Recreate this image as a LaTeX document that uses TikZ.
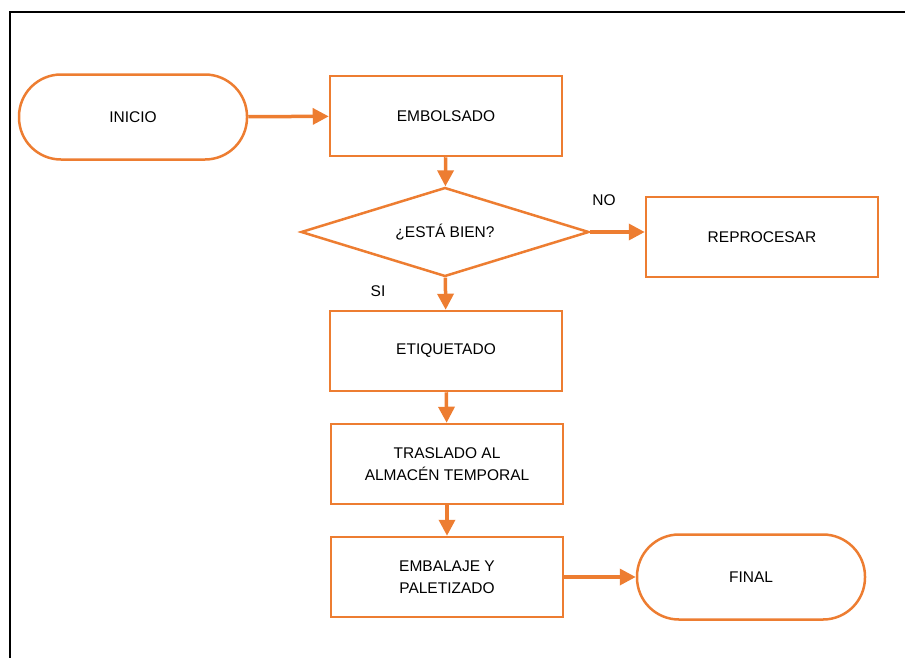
\documentclass[tikz,border=0pt]{standalone}
\usepackage{fontspec}
\setmainfont{Liberation Sans}
\usetikzlibrary{shapes.geometric,arrows.meta}

\definecolor{naranja}{RGB}{237,125,49}

\tikzset{
  caja/.style     = {shape=rectangle, draw=naranja, line width=2.5pt,
                     align=center, minimum width=232pt, minimum height=80pt,
                     inner sep=0pt},
  terminal/.style = {caja, rounded corners=42pt,
                     minimum width=228pt, minimum height=85pt},
  pregunta/.style = {shape=diamond, draw=naranja, line width=2.5pt, aspect=3.24,
                     minimum width=288pt, minimum height=89pt, inner sep=0pt},
  rotulo/.style   = {inner sep=0pt},
  flecha/.style   = {draw=naranja, line width=3.5pt,
                     -{Triangle[length=16pt,width=16pt]}}
}

\begin{document}
\begin{tikzpicture}
[
x=1pt, y=-1pt,
    every node/.style = {font=\fontsize{15.5}{21.5}\selectfont}
  ]
\useasboundingbox (0,0) rectangle (905,657);
% marco
\draw[line width=2.5pt] (10,670) |- (920,12);

\node[terminal] (inicio)     at (133,117) {INICIO};
\node[caja]     (embolsado)  at (446,116) {EMBOLSADO};
\node[pregunta] (control)    at (445,232) {¿ESTÁ BIEN?};
\node[caja]     (reprocesar) at (762,237) {REPROCESAR};
\node[caja]     (etiquetado) at (446,351) {ETIQUETADO};
\node[caja]     (traslado)   at (447,464) {TRASLADO AL\\ALMACÉN TEMPORAL};
\node[caja]     (embalaje)   at (447,577) {EMBALAJE Y\\PALETIZADO};
\node[terminal] (final)      at (751,577) {FINAL};

\node[rotulo] (no) at (604,200) {NO};
\node[rotulo] (si) at (378,291) {SI};

\draw[flecha] (inicio) -- (embolsado);
\draw[flecha] (embolsado) -- (control);
\draw[flecha] (control.east) -- (control.east -| reprocesar.west);
\draw[flecha] (control) -- (etiquetado);
\draw[flecha] (etiquetado) -- (traslado);
\draw[flecha] (traslado) -- (embalaje);
\draw[flecha] (embalaje) -- (final);
\end{tikzpicture}
\end{document}
